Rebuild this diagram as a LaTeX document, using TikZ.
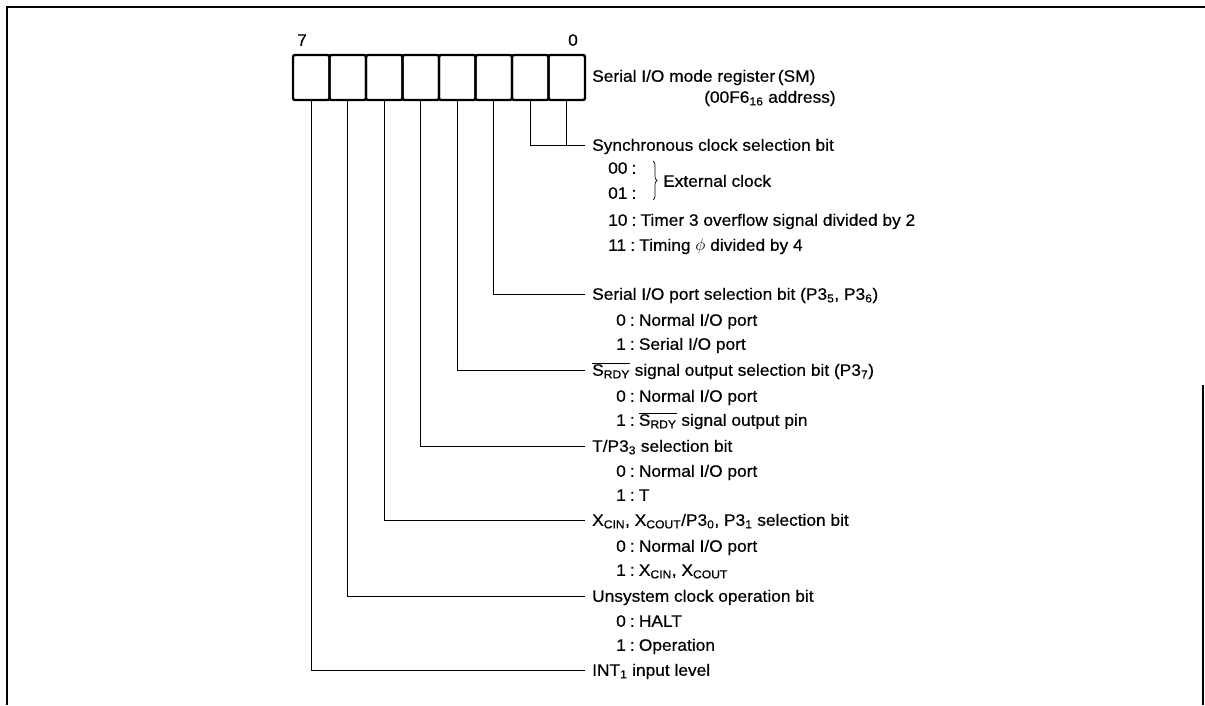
\documentclass[tikz,border=0pt]{standalone}
\usepackage{fontspec}
\setmainfont{Liberation Sans}[FakeStretch=1.05, FakeBold=0.5]
\usetikzlibrary{positioning, decorations.pathreplacing, calc}

\begin{document}
\begin{tikzpicture}[
    x=1pt, y=-1pt,
    % Styles
    base/.style={inner sep=0pt, font=\fontsize{16.5}{19}\selectfont, text height=11.5pt, text depth=0pt},
    bitcell/.style={rectangle, draw, line width=2.4pt, rounded corners=2pt, minimum width=36.5pt, minimum height=45pt, inner sep=0pt},
    bitnum/.style={base},
    field/.style={base, anchor=west, inner xsep=7pt},
    item/.style={base, anchor=west},
    wire/.style={line width=0.9pt},
    frame/.style={line width=1.8pt}
]
    \useasboundingbox (0,0) rectangle (1205,705);

    % --- Frame ---
    \draw [frame] (7,705) -- (7,7) -- (1205,7);
    \draw [frame] (1203,385) -- (1203,705);

    % --- Register (bits 7 ... 0) ---
    \foreach \i in {0,...,7}
        \node [bitcell] (b\i) at ({566.75-36.5*\i},77.5) {};
    \node [bitnum] (n7) at (302,40) {7};
    \node [bitnum] (n0) at (573,40) {0};
    \node [field] (title) at (585,76) {Serial I/O mode register\,(SM)};
    \node [item] (addr) at (704,97) {(00F6\textsubscript{16} address)};

    % --- Bits 1, 0: Synchronous clock ---
    \node [field] (syn) at (585,145) {Synchronous clock selection bit};
    \node [item] (syn00) at (608,168) {00\hspace{0.25em}:};
    \node [item] (syn01) at (608,193) {01\hspace{0.25em}:};
    \draw [decorate, decoration={brace, amplitude=4pt}, line width=0.7pt] (653,161) -- (653,200);
    \node [item] (ext) at (663,181) {External clock};
    \node [item] (syn10) at (608,220) {10\hspace{0.25em}:\hspace{0.25em}Timer 3 overflow signal divided by 2};
    \node [item] (syn11) at (608,245) {11\hspace{0.25em}:\hspace{0.25em}Timing $\phi$ divided by 4};

    % --- Bit 2: Serial I/O port ---
    \node [field] (sio) at (585,294) {Serial I/O port selection bit (P3\textsubscript{5}, P3\textsubscript{6})};
    \node [item] (sio0) at (616,320) {0\hspace{0.25em}:\hspace{0.25em}Normal I/O port};
    \node [item] (sio1) at (616,344) {1\hspace{0.25em}:\hspace{0.25em}Serial I/O port};

    % --- Bit 3: SRDY output ---
    \node [field] (rdy) at (585,370) {$\overline{\mbox{S\textsubscript{RDY}}}$ signal output selection bit (P3\textsubscript{7})};
    \node [item] (rdy0) at (616,396) {0\hspace{0.25em}:\hspace{0.25em}Normal I/O port};
    \node [item] (rdy1) at (616,420) {1\hspace{0.25em}:\hspace{0.25em}$\overline{\mbox{S\textsubscript{RDY}}}$ signal output pin};

    % --- Bit 4: T/P33 ---
    \node [field] (tpin) at (585,446) {T/P3\textsubscript{3} selection bit};
    \node [item] (tpin0) at (616,471) {0\hspace{0.25em}:\hspace{0.25em}Normal I/O port};
    \node [item] (tpin1) at (616,495) {1\hspace{0.25em}:\hspace{0.25em}T};

    % --- Bit 5: XCIN, XCOUT ---
    \node [field] (xc) at (585,520) {X\textsubscript{CIN}, X\textsubscript{COUT}/P3\textsubscript{0}, P3\textsubscript{1} selection bit};
    \node [item] (xc0) at (616,546) {0\hspace{0.25em}:\hspace{0.25em}Normal I/O port};
    \node [item] (xc1) at (616,570) {1\hspace{0.25em}:\hspace{0.25em}X\textsubscript{CIN}, X\textsubscript{COUT}};

    % --- Bit 6: Unsystem clock ---
    \node [field] (uns) at (585,596) {Unsystem clock operation bit};
    \node [item] (uns0) at (616,621) {0\hspace{0.25em}:\hspace{0.25em}HALT};
    \node [item] (uns1) at (616,645) {1\hspace{0.25em}:\hspace{0.25em}Operation};

    % --- Bit 7: INT1 ---
    \node [field] (intl) at (585,670) {INT\textsubscript{1} input level};

    % --- Connections ---
    \draw [wire] (b0.south) -- (b0.south |- syn.west);
    \draw [wire] (b1.south) |- (syn.west);
    \draw [wire] (b2.south) |- (sio.west);
    \draw [wire] (b3.south) |- (rdy.west);
    \draw [wire] (b4.south) |- (tpin.west);
    \draw [wire] (b5.south) |- (xc.west);
    \draw [wire] (b6.south) |- (uns.west);
    \draw [wire] (b7.south) |- (intl.west);

\end{tikzpicture}
\end{document}
